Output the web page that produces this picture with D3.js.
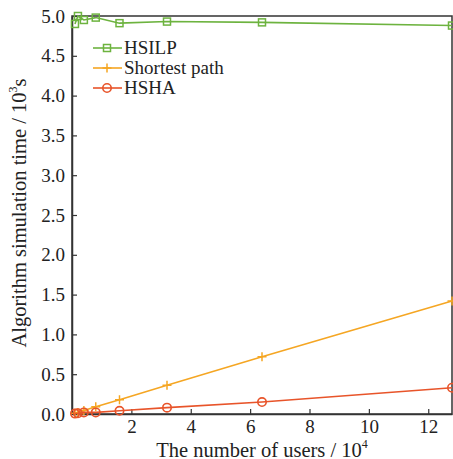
<!DOCTYPE html>
<html><head><meta charset="utf-8">
<script src="https://cdn.jsdelivr.net/npm/d3@7/dist/d3.min.js"></script>
<style>body{margin:0;background:#fff}</style>
</head><body><svg id="c" width="453" height="459"></svg>
<script>
const users = [0.1, 0.2, 0.4, 0.8, 1.6, 3.2, 6.4, 12.8];
const hsilp = [4.90, 5.00, 4.95, 4.98, 4.91, 4.93, 4.92, 4.88];
const shortest = [0.01, 0.02, 0.045, 0.09, 0.18, 0.36, 0.72, 1.42];
const hsha = [0.005, 0.01, 0.02, 0.02, 0.04, 0.08, 0.15, 0.33];
const seriesNames = ["HSILP", "Shortest path", "HSHA"];
const xTicks = [2, 4, 6, 8, 10, 12];
const yTicks = [0, 0.5, 1, 1.5, 2, 2.5, 3, 3.5, 4, 4.5, 5];

const FONT = "Liberation Serif";
const FS = "19px";
const TFS = "20.5px";
const colors = ["#6db33f", "#f5a623", "#e8542a"];
const markers = ["square", "plus", "circle"];
const svg = d3.select("#c");
const L = 72, R = 452, T = 16, B = 414;
const x = d3.scaleLinear().domain([0, 12.8]).range([L, R]);
const y = d3.scaleLinear().domain([0, 5]).range([B, T]);
const axisColor = "#333";

svg.append("rect").attr("x", L).attr("y", T).attr("width", R - L).attr("height", B - T)
  .attr("fill", "none").attr("stroke", axisColor).attr("stroke-width", 1.5);

const gx = svg.append("g").attr("transform", `translate(0,${B})`)
  .call(d3.axisBottom(x).tickValues(xTicks).tickSizeInner(-5).tickSizeOuter(0).tickPadding(6).tickFormat(d3.format("d")));
const gy = svg.append("g").attr("transform", `translate(${L},0)`)
  .call(d3.axisLeft(y).tickValues(yTicks).tickSizeInner(-5).tickSizeOuter(0).tickPadding(7).tickFormat(d3.format(".1f")));
[gx, gy].forEach(g => {
  g.select(".domain").attr("stroke", axisColor).attr("stroke-width", 1.5);
  g.selectAll(".tick line").attr("stroke", axisColor).attr("stroke-width", 1.2);
  g.selectAll(".tick text").attr("fill", "#222").style("font-family", FONT).style("font-size", FS);
});

const xt = svg.append("text").attr("x", 262).attr("y", 456.5).attr("text-anchor", "middle")
  .attr("fill", "#222").style("font-family", FONT).style("font-size", TFS);
xt.append("tspan").text("The number of users / 10");
xt.append("tspan").text("4").attr("dy", -9).style("font-size", "12px");

const yt = svg.append("text").attr("transform", "translate(26,213) rotate(-90)").attr("text-anchor", "middle")
  .attr("fill", "#222").style("font-family", FONT).style("font-size", TFS);
yt.append("tspan").text("Algorithm simulation time / 10");
yt.append("tspan").text("3").attr("dy", -9).style("font-size", "12px");
yt.append("tspan").text("s").attr("dy", 9);

function drawMarker(g, type, cx, cy, color) {
  if (type === "square") {
    g.append("rect").attr("x", cx - 3.5).attr("y", cy - 3.5).attr("width", 7).attr("height", 7)
      .attr("fill", "none").attr("stroke", color).attr("stroke-width", 1.5);
  } else if (type === "plus") {
    g.append("path").attr("d", `M${cx - 4.5},${cy}H${cx + 4.5}M${cx},${cy - 4.5}V${cy + 4.5}`)
      .attr("stroke", color).attr("stroke-width", 1.5);
  } else {
    g.append("circle").attr("cx", cx).attr("cy", cy).attr("r", 4.2)
      .attr("fill", "none").attr("stroke", color).attr("stroke-width", 1.6);
  }
}

const data = [hsilp, shortest, hsha];
const line = d3.line().x((d, i) => x(users[i])).y(d => y(d));
[1, 2, 0].forEach(k => {
  const g = svg.append("g");
  g.append("path").datum(data[k]).attr("d", line).attr("fill", "none")
    .attr("stroke", colors[k]).attr("stroke-width", 1.6);
  data[k].forEach((v, i) => drawMarker(g, markers[k], x(users[i]), y(v), colors[k]));
});

const legY = [48, 68, 88];
seriesNames.forEach((n, k) => {
  const g = svg.append("g");
  g.append("line").attr("x1", 93).attr("x2", 122).attr("y1", legY[k]).attr("y2", legY[k])
    .attr("stroke", colors[k]).attr("stroke-width", 1.6);
  drawMarker(g, markers[k], 107, legY[k], colors[k]);
  g.append("text").attr("x", 124).attr("y", legY[k] + 6).attr("fill", "#222")
    .style("font-family", FONT).style("font-size", "19px").text(n);
});
</script></body></html>
